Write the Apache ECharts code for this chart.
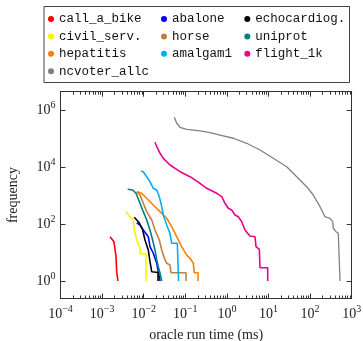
<!DOCTYPE html>
<html><head><meta charset="utf-8">
<script src="https://cdn.jsdelivr.net/npm/echarts@6/dist/echarts.min.js"></script>
<style>html,body{margin:0;padding:0;background:#fff}#c{width:363px;height:341px}</style>
</head><body><div id="c"></div>
<script>
// ---- data: [oracle run time (ms), frequency] ----
const seriesNames = ['call_a_bike','abalone','echocardiog.','civil_serv.','horse','uniprot','hepatitis','amalgam1','flight_1k','ncvoter_allc'];
const seriesColors = ['#ff0000','#0000ff','#000000','#fff200','#bf8040','#008080','#ff8000','#00aeef','#ec008c','#808080'];
const call_a_bike = [[1.55e-3,36],[1.93e-3,24],[2.16e-3,7.2],[2.24e-3,2.1],[2.41e-3,1.96],[2.41e-3,1]];
const abalone = [[6.79e-3,113],[8.15e-3,94],[9.77e-3,62.7],[1.29e-2,36.4],[1.416e-2,16.2],[1.70e-2,9.5],[2.06e-2,4.2],[2.24e-2,2.1],[2.47e-2,2.1],[2.47e-2,1]];
const echocardiog = [[5.94e-3,176],[7.83e-3,113],[9.46e-3,62.7],[1.074e-2,27.8],[1.29e-2,12.4],[1.416e-2,4.8],[1.556e-2,2.13],[2.21e-2,2],[2.21e-2,1]];
const civil_serv = [[3.76e-3,277],[4.51e-3,195],[5.62e-3,141],[5.94e-3,62.7],[6.79e-3,27.8],[8.15e-3,14.2],[8.47e-3,8.9],[1.135e-2,8.9],[1.135e-2,1]];
const horse = [[6.79e-3,1402],[8.15e-3,1072],[9.77e-3,547],[1.18e-2,277],[1.556e-2,141],[1.87e-2,62.7],[2.37e-2,27.8],[2.71e-2,12.4],[3.25e-2,5.5],[3.57e-2,4.2],[4.28e-2,3.7],[4.53e-2,1.96],[0.104,1.96],[0.104,1]];
const uniprot = [[4.12e-3,1703],[5.44e-3,1608],[6.53e-3,1230],[8.15e-3,547],[9.77e-3,277],[1.18e-2,141],[1.416e-2,62.7],[1.64e-2,27.8],[1.87e-2,12.4],[2.06e-2,5.5],[2.24e-2,3.2],[2.47e-2,1.87],[2.71e-2,1]];
const hepatitis = [[7.02e-3,1402],[8.95e-3,1230],[1.18e-2,820],[1.70e-2,476],[2.47e-2,277],[3.57e-2,162],[4.71e-2,81.9],[6.21e-2,36.4],[8.18e-2,16.2],[0.108,8.2],[0.130,6.3],[0.156,4.2],[0.164,1.96],[0.203,1.96],[0.203,1]];
const amalgam1 = [[8.61e-3,7516],[9.77e-3,7100],[1.18e-2,4730],[1.416e-2,3155],[1.70e-2,1845],[2.06e-2,1608],[2.37e-2,934],[2.71e-2,415],[2.96e-2,212],[3.57e-2,94],[4.28e-2,48],[4.71e-2,21.3],[6.43e-2,21.3],[6.79e-2,18.5],[6.9e-2,1]];
const flight_1k = [[1.87e-2,77100],[2.06e-2,54000],[2.47e-2,31600],[2.96e-2,21000],[4.28e-2,12200],[7.46e-2,7100],[0.130,4730],[0.225,2770],[0.327,1845],[0.569,1230],[0.75,934],[0.90,547],[1.08,365],[1.30,318],[1.57,212],[1.88,184],[2.27,123],[2.72,62.7],[2.99,54.6],[3.59,38.5],[4.73,36.4],[5.01,16.2],[6.01,13.1],[6.25,2.94],[9.57,2.94],[9.57,1]];
const ncvoter_allc = [[5.45e-2,586000],[6.21e-2,360000],[7.46e-2,261000],[0.108,221000],[0.225,193000],[0.393,168000],[0.683,139000],[1.43,107000],[2.99,71100],[6.25,41300],[13.0,21000],[27.4,10600],[47.6,4730],[82.8,2100],[119,1072],[173,415],[228,184],[301,162],[349,123],[361,72],[420,54.6],[476,48],[504,41.8],[524,41.8],[524,1]];
const seriesData = [call_a_bike, abalone, echocardiog, civil_serv, horse, uniprot, hepatitis, amalgam1, flight_1k, ncvoter_allc];
const xTickValues = [1e-4,1e-3,1e-2,1e-1,1,10,100,1000];
const yTickValues = [1,1e2,1e4,1e6];
const xMin = 1e-4, xMax = 1e3, yMin = 0.2416, yMax = 4.67e6;

// legend grid layout (row, col) in reading order
const legendRows = [0,0,0,1,1,1,2,2,2,3];
const legendCols = [0,1,2,0,1,2,0,1,2,0];

const xMinor = [];
for (let d = -4; d < 3; d++) for (let k = 2; k <= 9; k++) xMinor.push(k * Math.pow(10, d));

const serif = '"Liberation Serif", "DejaVu Serif", serif';
const mono = '"Liberation Mono", "DejaVu Sans Mono", monospace';
const rich = {
  b: {fontFamily: serif, fontSize: 14, color: '#222', lineHeight: 20},
  s: {fontFamily: serif, fontSize: 10, color: '#222', verticalAlign: 'top', lineHeight: 12}
};
function powLabel(v) {
  const e = Math.round(Math.log10(v));
  return '{b|10}{s|' + (e < 0 ? '\u2212' + (-e) : e) + '}';
}
const axisCol = '#333';
const tickCol = '#333';

const chart = echarts.init(document.getElementById('c'), null, {renderer: 'canvas'});
const colX = [48, 161, 244.3];
const legends = seriesNames.map((n, i) => ({
  data: [n], left: colX[legendCols[i]], top: 12 + legendRows[i] * 17.4,
  icon: 'circle', itemWidth: 6, itemHeight: 6, padding: 0, selectedMode: false,
  textStyle: {fontFamily: mono, fontSize: 12.5, color: '#111', lineHeight: 14, padding: [0,0,0,0]}
}));
function tick(len, vals) {
  return {show: true, inside: true, length: len, customValues: vals, lineStyle: {color: tickCol}};
}

chart.setOption({
  animation: false,
  legend: legends,
  graphic: [{type: 'rect', shape: {x: 44, y: 6.5, width: 305.5, height: 76}, style: {fill: 'none', stroke: '#444', lineWidth: 1}, silent: true}],
  grid: {left: 60.5, right: 11.3, top: 91.7, bottom: 42.5, containLabel: false, outerBoundsMode: 'none'},
  xAxis: [
    {type: 'log', min: xMin, max: xMax, position: 'bottom',
     name: 'oracle run time (ms)', nameLocation: 'middle', nameGap: 30,
     nameTextStyle: {fontFamily: serif, fontSize: 14, color: '#222'},
     axisLine: {show: true, onZero: false, lineStyle: {color: axisCol}},
     axisTick: tick(5, xTickValues),
     axisLabel: {customValues: xTickValues, formatter: powLabel, rich: rich, margin: 6},
     splitLine: {show: false}},
    {type: 'log', min: xMin, max: xMax, position: 'bottom',
     axisLine: {show: true, onZero: false, lineStyle: {color: axisCol}}, axisLabel: {show: false}, splitLine: {show: false},
     axisTick: tick(3, xMinor)},
    {type: 'log', min: xMin, max: xMax, position: 'top',
     axisLine: {show: true, onZero: false, lineStyle: {color: axisCol}}, axisLabel: {show: false}, splitLine: {show: false},
     axisTick: tick(5, xTickValues)},
    {type: 'log', min: xMin, max: xMax, position: 'top',
     axisLine: {show: true, onZero: false, lineStyle: {color: axisCol}}, axisLabel: {show: false}, splitLine: {show: false},
     axisTick: tick(3, xMinor)}
  ],
  yAxis: [
    {type: 'log', min: yMin, max: yMax, position: 'left',
     name: 'frequency', nameLocation: 'middle', nameGap: 40, nameRotate: 90,
     nameTextStyle: {fontFamily: serif, fontSize: 14, color: '#222'},
     axisLine: {show: true, onZero: false, lineStyle: {color: axisCol}},
     axisTick: tick(5, yTickValues),
     axisLabel: {customValues: yTickValues, formatter: powLabel, rich: rich, margin: 5},
     splitLine: {show: false}},
    {type: 'log', min: yMin, max: yMax, position: 'right',
     axisLine: {show: true, onZero: false, lineStyle: {color: axisCol}},
     axisTick: tick(5, yTickValues),
     axisLabel: {show: false}, splitLine: {show: false}}
  ],
  series: seriesNames.map((n, i) => ({
    name: n, type: 'line', data: seriesData[i], xAxisIndex: 0, yAxisIndex: 0,
    showSymbol: false, symbol: 'none', color: seriesColors[i],
    lineStyle: {width: i === 9 ? 1.3 : 1.6, color: seriesColors[i]}, z: 2
  }))
});
</script></body></html>
